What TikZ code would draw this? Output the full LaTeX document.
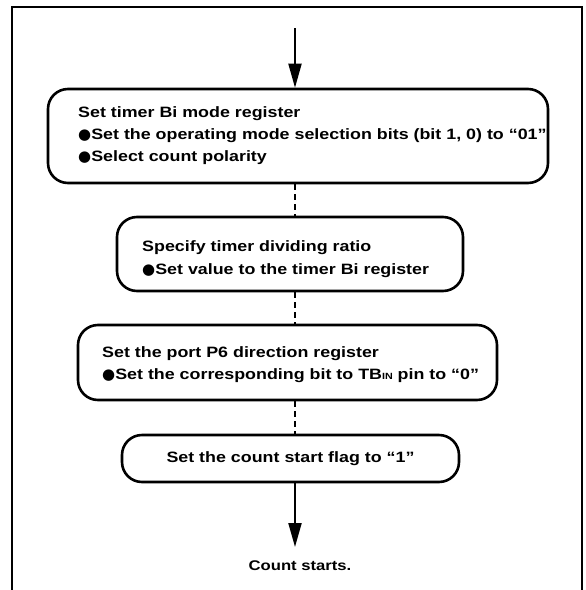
\documentclass[tikz,border=0pt]{standalone}
\usepackage{fontspec}
\setmainfont{Liberation Sans}[FakeStretch=1.19]
\newfontfamily\symfont{DejaVu Sans}
\usetikzlibrary{arrows.meta}
\newcommand\blt{{\symfont\fontsize{15}{15}\selectfont ●}}
\begin{document}
\begin{tikzpicture}[x=1pt,y=-1pt,
  box/.style={draw, line width=2.6pt, rounded corners=20pt, inner sep=0pt},
  txt/.style={anchor=base west, inner sep=0pt, font=\fontsize{15}{18}\selectfont\bfseries},
  flow/.style={line width=2pt, -{Triangle[length=24pt,width=13pt]}},
  link/.style={line width=2.4pt, dash pattern=on 6pt off 4pt},
  frame/.style={line width=1.8pt}]
\useasboundingbox (0,0) rectangle (586,590);
\draw[frame] (12,590) -- (12,7) -- (582,7) -- (582,590);
\coordinate (in) at (295,28);
% boxes
\node[box, minimum width=500pt, minimum height=94pt] (b1) at (298,136) {};
\node[box, minimum width=346pt, minimum height=74pt] (b2) at (290,254) {};
\node[box, minimum width=419pt, minimum height=75pt] (b3) at (287.5,362.5) {};
\node[box, minimum width=337pt, minimum height=47pt, font=\fontsize{15}{18}\selectfont\bfseries] (b4) at (290.5,458.5) {Set the count start flag to “1”};
% texts
\node[txt] (t1a) at (78,117) {Set timer Bi mode register};
\node[txt] (t1b) at (78,139) {\blt Set the operating mode selection bits (bit 1, 0) to “01”};
\node[txt] (t1c) at (78,161) {\blt Select count polarity};
\node[txt] (t2a) at (142,251) {Specify timer dividing ratio};
\node[txt] (t2b) at (142,274) {\blt Set value to the timer Bi register};
\node[txt] (t3a) at (102,357) {Set the port P6 direction register};
\node[txt] (t3b) at (102,379) {\blt Set the corresponding bit to TB{\fontsize{9}{9}\selectfont IN} pin to “0”};
\node[anchor=base, inner sep=0pt, font=\fontsize{14}{16}\selectfont\bfseries] (cs) at (300,570) {Count starts.};
% connectors
\draw[flow] (in) -- (in |- b1.north);
\draw[link] (b1.south -| in) -- (b2.north -| in);
\draw[link] (b2.south -| in) -- (b3.north -| in);
\draw[link] (b3.south -| in) -- (b4.north -| in);
\draw[flow, shorten >=13pt] (b4.south -| in) -- (in |- cs.north);
\end{tikzpicture}
\end{document}
